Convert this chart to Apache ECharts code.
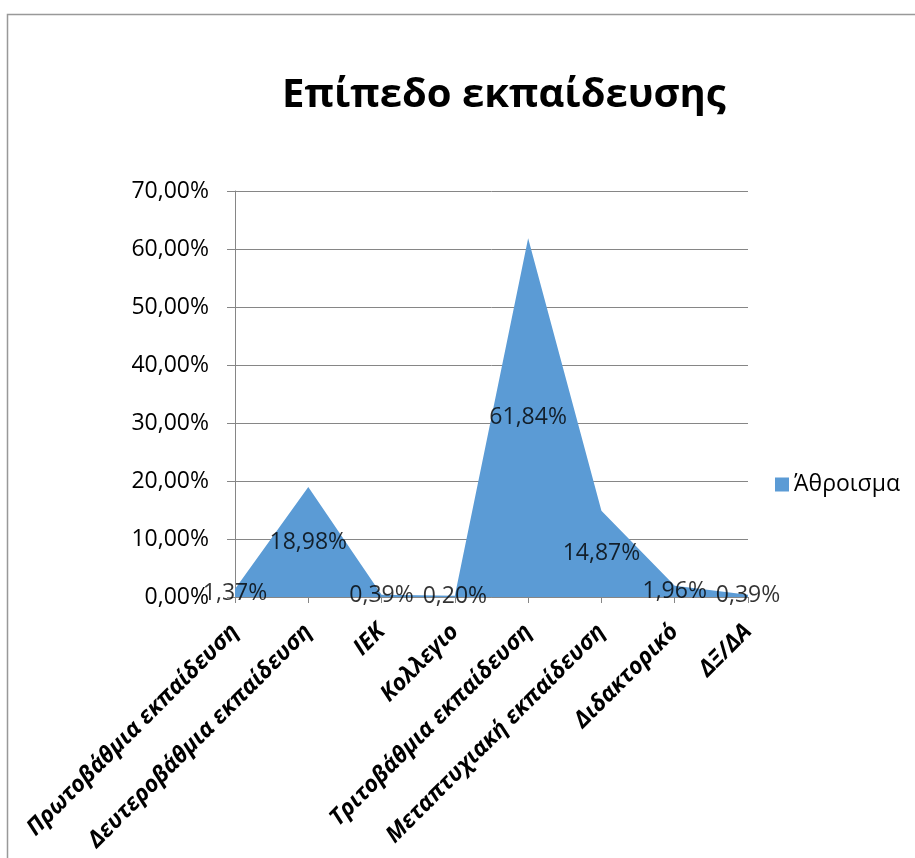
<!DOCTYPE html>
<html><head><meta charset="utf-8">
<script src="https://cdn.jsdelivr.net/npm/echarts@6/dist/echarts.min.js"></script>
<style>html,body{margin:0;padding:0;background:#fff}#c{width:915px;height:858px}</style>
</head><body><div id="c"></div>
<script>
const categories = ['Πρωτοβάθμια εκπαίδευση','Δευτεροβάθμια εκπαίδευση','ΙΕΚ','Κολλεγιο','Τριτοβάθμια εκπαίδευση','Μεταπτυχιακή εκπαίδευση','Διδακτορικό','ΔΞ/ΔΑ'];
const values = [1.37, 18.98, 0.39, 0.20, 61.84, 14.87, 1.96, 0.39];
const seriesName = 'Άθροισμα';
const titleText = 'Επίπεδο εκπαίδευσης';
const yMin = 0, yMax = 70, yStep = 10;

const fmt = v => v.toFixed(2).replace('.', ',') + '%';
const FONT = '"Open Sans", sans-serif';
const chart = echarts.init(document.getElementById('c'), null, {renderer:'canvas'});
chart.setOption({
  animation:false,
  graphic:[{type:'rect', left:5, top:12, shape:{width:1000,height:1000}, style:{fill:'none', stroke:'#999999', lineWidth:1.5}, silent:true}],
  title:{text:titleText, left:277, top:71, textStyle:{fontFamily:FONT, fontSize:40, fontWeight:'bold', color:'#000'}},
  legend:{data:[seriesName], left:770, top:468, itemWidth:14, itemHeight:14, textStyle:{fontFamily:FONT, fontSize:23, color:'#000', padding:[0,0,0,0]}, icon:'rect'},
  grid:{left:235, right:167, top:191, bottom:261},
  xAxis:{type:'category', data:categories, boundaryGap:false,
    axisLine:{lineStyle:{color:'#868686'}}, axisTick:{show:true, alignWithLabel:true, length:6, lineStyle:{color:'#868686'}},
    axisLabel:{rotate:45, interval:0, margin:31, fontFamily:FONT, fontSize:23, fontWeight:'bold', fontStyle:'italic', color:'#000'}},
  yAxis:{type:'value', min:yMin, max:yMax, interval:yStep,
    axisLine:{show:true, lineStyle:{color:'#868686'}}, axisTick:{show:true, length:8, lineStyle:{color:'#868686'}},
    splitLine:{lineStyle:{color:'#868686'}},
    axisLabel:{formatter:v=>fmt(v), fontFamily:FONT, fontSize:23, color:'#000', margin:26}},
  series:[
    {name:seriesName, type:'line', data:values, symbol:'none', lineStyle:{width:0, color:'#5B9BD5'}, itemStyle:{color:'#5B9BD5'}, areaStyle:{color:'#5B9BD5', opacity:1}},
    {name:'labels', type:'scatter', data:values.map(v=>v/2), symbolSize:1, itemStyle:{color:'rgba(0,0,0,0)'}, z:5,
      label:{show:true, position:'inside', formatter:p=>fmt(values[p.dataIndex]), fontFamily:FONT, fontSize:23, color:'#000'}}
  ]
});
</script></body></html>
